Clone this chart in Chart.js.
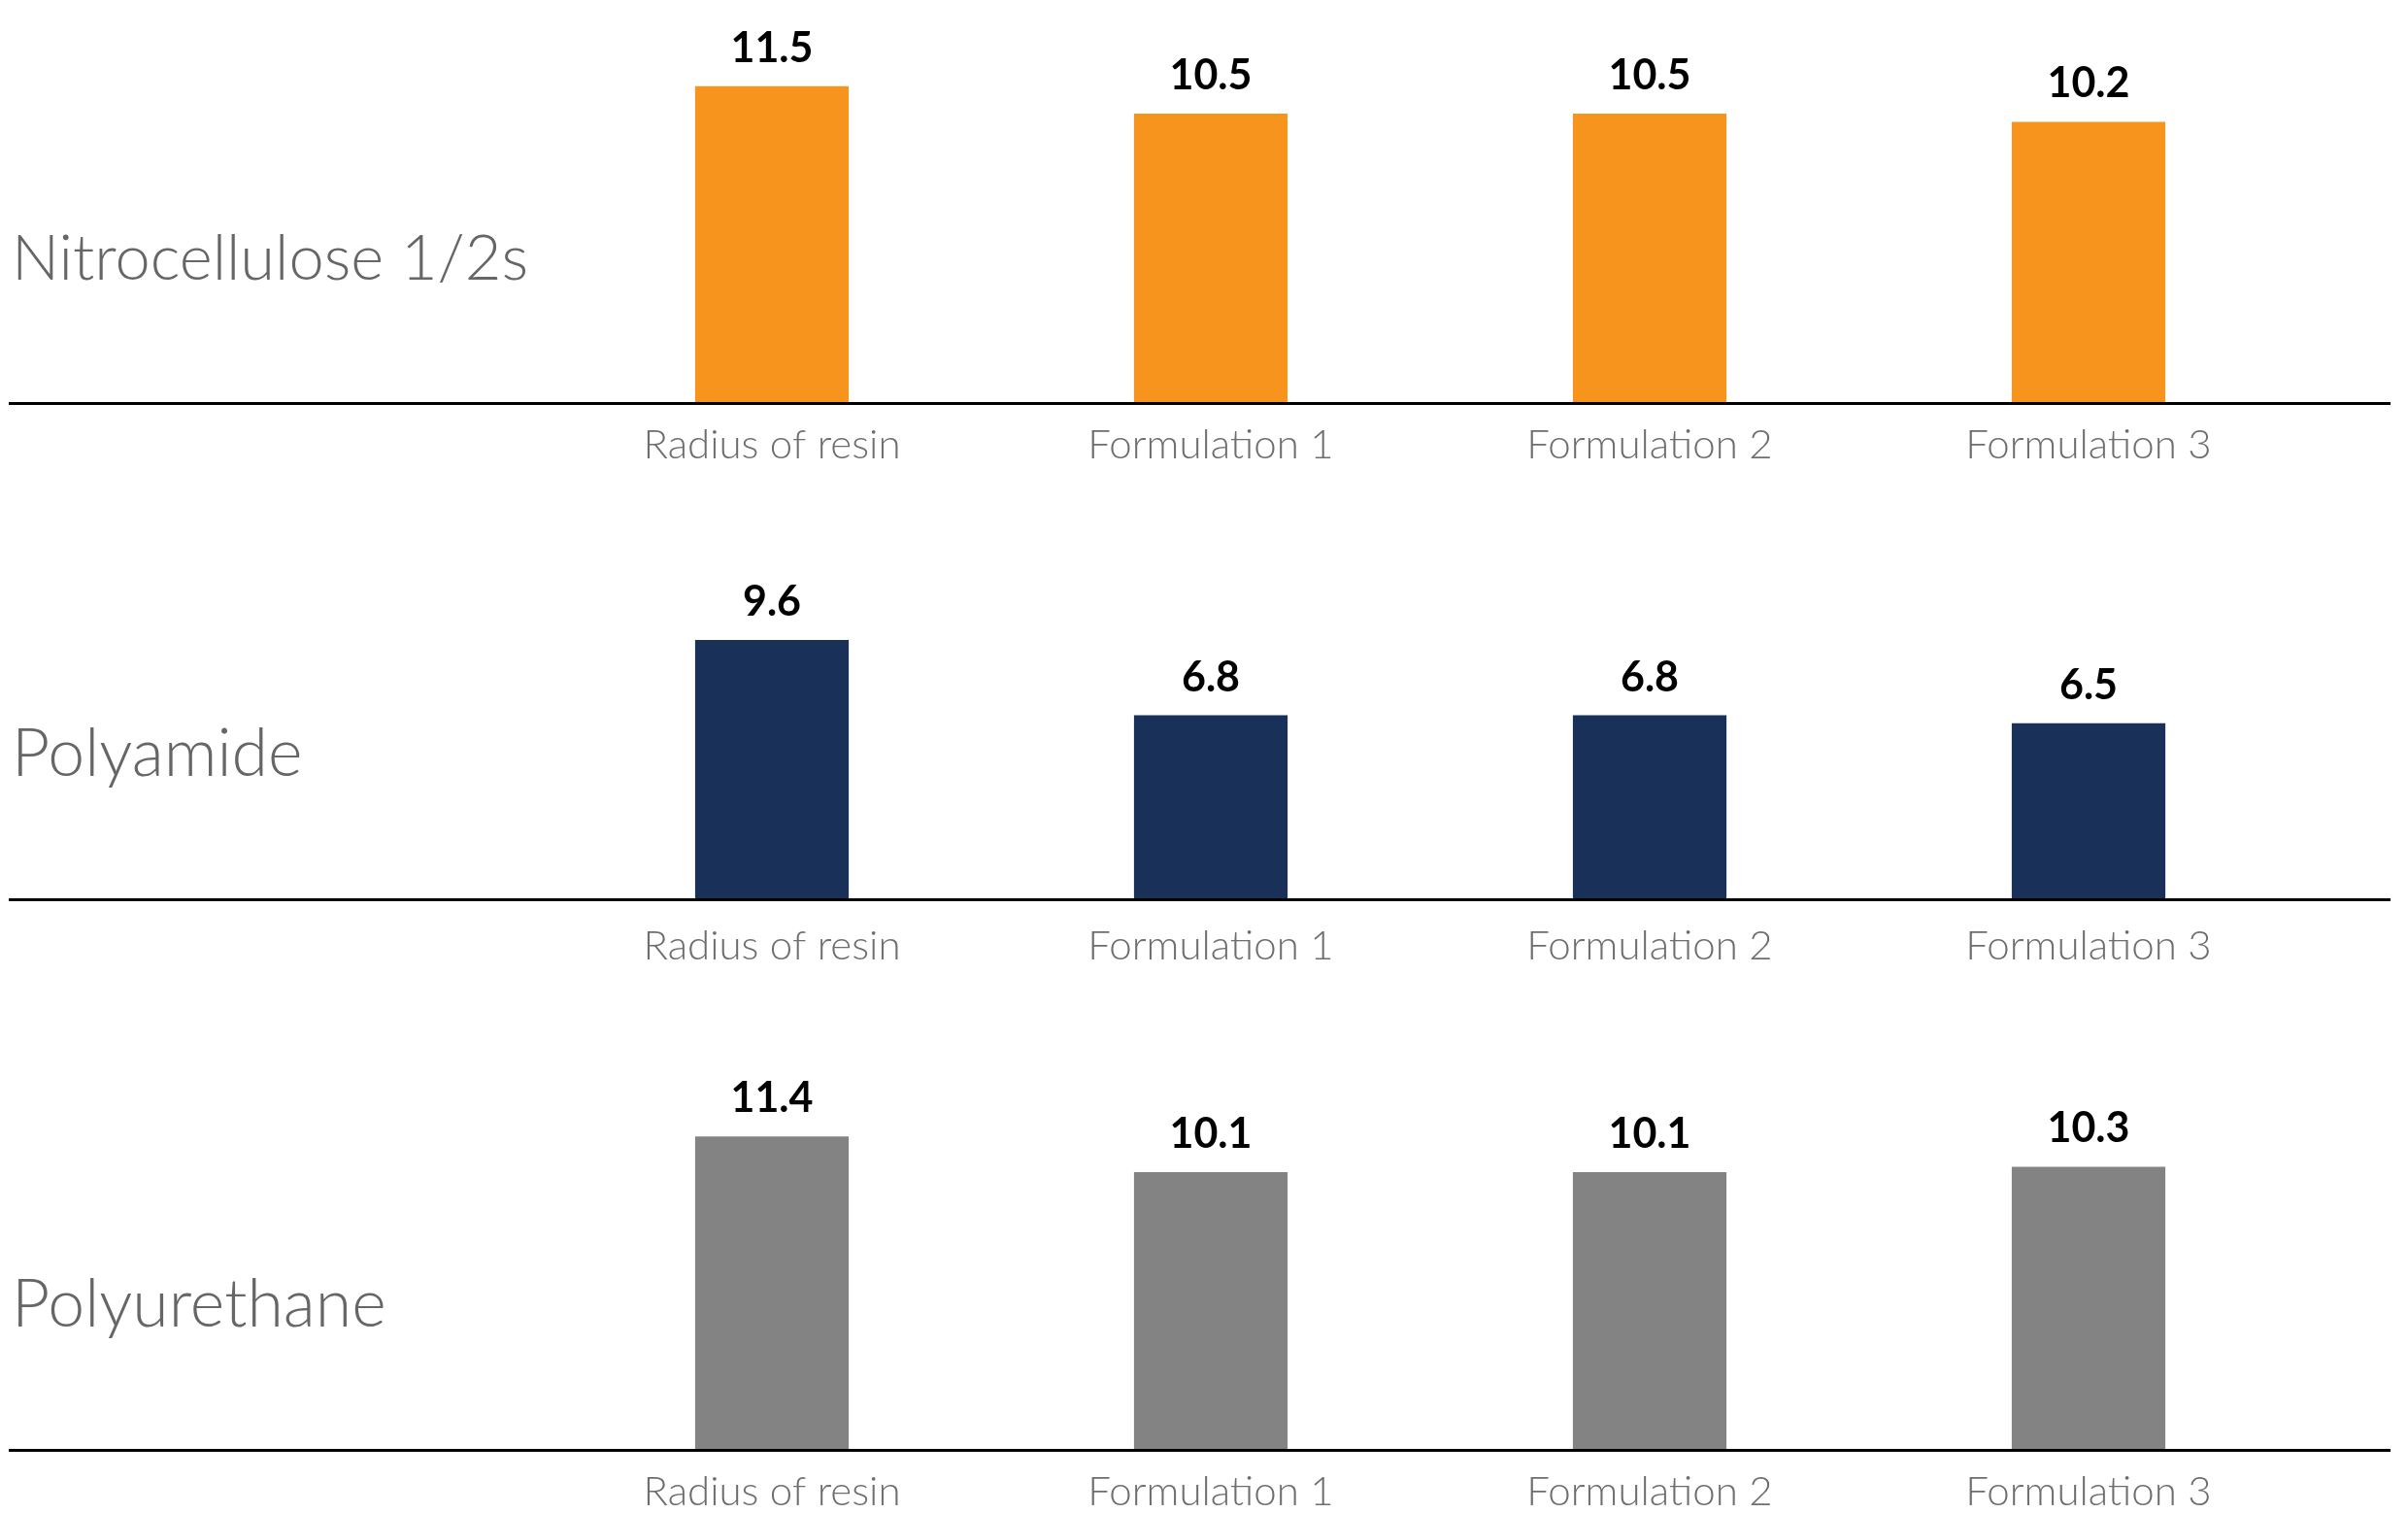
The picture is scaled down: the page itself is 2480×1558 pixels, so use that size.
<!DOCTYPE html>
<html>
<head>
<meta charset="utf-8">
<script src="https://cdn.jsdelivr.net/npm/chart.js@4.4.1/dist/chart.umd.min.js"></script>
<style>
  html, body { margin: 0; padding: 0; background: #ffffff; }
  body { width: 2480px; height: 1558px; position: relative; overflow: hidden; }
  .panel { position: absolute; left: 0; width: 2480px; }
</style>
</head>
<body>
<div class="panel" id="p1" style="top:0px;height:510px;"><canvas id="c1"></canvas></div>
<div class="panel" id="p2" style="top:510px;height:511px;"><canvas id="c2"></canvas></div>
<div class="panel" id="p3" style="top:1021px;height:537px;"><canvas id="c3"></canvas></div>
<script>
// ---- data ----
const categories = ["Radius of resin", "Formulation 1", "Formulation 2", "Formulation 3"];
const panelTitles = ["Nitrocellulose 1/2s", "Polyamide", "Polyurethane"];
const nitrocelluloseValues = [11.5, 10.5, 10.5, 10.2];
const polyamideValues = [9.6, 6.8, 6.8, 6.5];
const polyurethaneValues = [11.4, 10.1, 10.1, 10.3];

const barColors = ["#F7941E", "#193059", "#838383"];

const VALUE_FONT = 'bold 43px Lato, "Open Sans", sans-serif';

const decorPlugin = {
  id: 'decor',
  afterDatasetsDraw(chart, args, opts) {
    const ctx = chart.ctx;
    const y0 = chart.scales.y.getPixelForValue(0);
    ctx.save();
    // baseline rule across the full width
    ctx.strokeStyle = '#000000';
    ctx.lineWidth = 3;
    ctx.beginPath();
    ctx.moveTo(9, y0 + 1.5);
    ctx.lineTo(2462, y0 + 1.5);
    ctx.stroke();
    // value labels
    ctx.fillStyle = '#000000';
    ctx.font = VALUE_FONT;
    ctx.textAlign = 'center';
    ctx.textBaseline = 'alphabetic';
    const meta = chart.getDatasetMeta(0);
    const data = chart.data.datasets[0].data;
    meta.data.forEach((bar, i) => {
      ctx.fillText(data[i].toFixed(1), bar.x, bar.y - 25);
    });
    // panel title
    ctx.fillStyle = '#666666';
    ctx.font = '300 ' + opts.titleSize + 'px Lato, "Open Sans", sans-serif';
    ctx.textAlign = 'left';
    ctx.fillText(opts.title, 12, y0 - 126);
    ctx.restore();
  }
};

function makePanel(canvasId, title, values, color, padTop, axisHeight, tickPad, titleSize) {
  return new Chart(document.getElementById(canvasId), {
    type: 'bar',
    data: {
      labels: categories,
      datasets: [{
        data: values,
        backgroundColor: color,
        borderWidth: 0,
        barPercentage: 0.35,
        categoryPercentage: 1.0
      }]
    },
    options: {
      responsive: true,
      maintainAspectRatio: false,
      animation: false,
      events: [],
      layout: { padding: { left: 569, right: 103, top: padTop, bottom: 0 } },
      plugins: {
        legend: { display: false },
        tooltip: { enabled: false },
        decor: { title: title, titleSize: titleSize }
      },
      scales: {
        x: {
          offset: true,
          grid: { display: false, drawTicks: false },
          border: { display: false },
          ticks: {
            color: '#6e6e6e',
            font: { family: 'Lato, "Open Sans", sans-serif', size: 42, weight: 300 },
            padding: tickPad,
            maxRotation: 0,
            autoSkip: false
          },
          afterFit(scale) { scale.height = axisHeight; }
        },
        y: {
          display: false,
          min: 0,
          max: 14
        }
      }
    },
    plugins: [decorPlugin]
  });
}

makePanel('c1', panelTitles[0], nitrocelluloseValues, barColors[0], 18, 96, 19, 65);
makePanel('c2', panelTitles[1], polyamideValues, barColors[1], 27, 96, 24, 68);
makePanel('c3', panelTitles[2], polyurethaneValues, barColors[2], 76, 66, 19, 68);
</script>
</body>
</html>
